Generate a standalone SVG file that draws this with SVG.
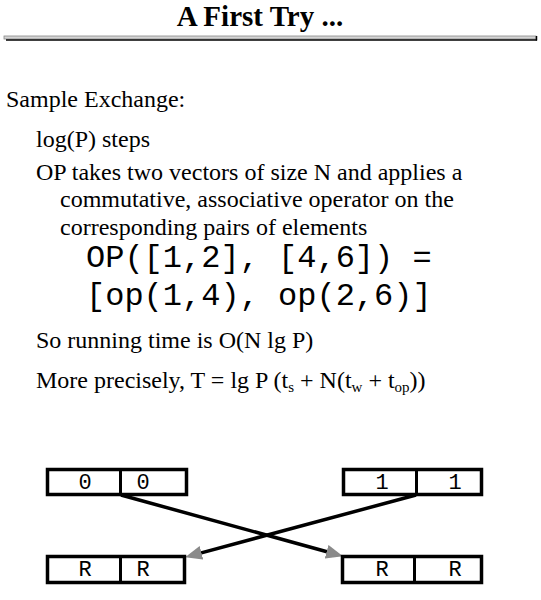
<svg xmlns="http://www.w3.org/2000/svg" width="541" height="600" viewBox="0 0 541 600">
<defs>
<style>
.t{font-family:"Liberation Serif","Times New Roman",serif;font-size:24px;fill:#000}
.m{font-family:"Liberation Mono","Courier New",monospace;font-size:32px;fill:#000}
.bx{fill:#fff;stroke:#000;stroke-width:3.5}
.dv{stroke:#000;stroke-width:3}
.bt{font-family:"Liberation Mono","Courier New",monospace;font-size:22px;fill:#000;text-anchor:middle}
.cn{stroke:#000;stroke-width:3.5;fill:none;marker-end:url(#ah)}
.sub{font-size:15px}
</style>
<marker id="ah" markerUnits="userSpaceOnUse" markerWidth="18" markerHeight="14" refX="6" refY="7" orient="auto">
<path d="M0,0 L17,7 L0,14 z" fill="#8a8a8a"/>
</marker>
</defs>
<rect width="541" height="600" fill="#fff"/>
<g id="title">
<text x="260" y="26" text-anchor="middle" style="font-family:'Liberation Serif','Times New Roman',serif;font-size:29px;font-weight:bold">A First Try ...</text>
<rect x="4" y="36" width="532" height="3" fill="#d4d4d4" stroke="#888" stroke-width="0.8"/>
<line x1="6" y1="40" x2="537" y2="40" stroke="#000" stroke-width="1.6"/>
<line x1="536.5" y1="36" x2="536.5" y2="40.5" stroke="#000" stroke-width="1.5"/>
</g>
<g id="body">
<text class="t" x="6" y="107">Sample Exchange:</text>
<text class="t" x="36" y="147">log(P) steps</text>
<text class="t" x="36" y="180">OP takes two vectors of size N and applies a</text>
<text class="t" x="60" y="207">commutative, associative operator on the</text>
<text class="t" x="60" y="235">corresponding pairs of elements</text>
<text class="m" x="86" y="267">OP([1,2], [4,6]) =</text>
<text class="m" x="86" y="305">[op(1,4), op(2,6)]</text>
<text class="t" x="36" y="348">So running time is O(N lg P)</text>
<text class="t" x="36" y="388">More precisely, T = lg P (t<tspan class="sub" dy="4">s</tspan><tspan dy="-4"> + N(t</tspan><tspan class="sub" dy="4">w</tspan><tspan dy="-4"> + t</tspan><tspan class="sub" dy="4">op</tspan><tspan dy="-4">))</tspan></text>
</g>
<g id="connectors">
<line class="cn" x1="121" y1="495" x2="332.4" y2="553.3"/>
<line class="cn" x1="416" y1="495" x2="195.7" y2="554.4"/>
</g>
<g id="node-top-left">
<rect class="bx" x="47.5" y="469.5" width="139" height="25"/>
<line class="dv" x1="120.5" y1="469.5" x2="120.5" y2="494.5"/>
<text class="bt" x="85" y="489">0</text>
<text class="bt" x="143" y="489">0</text>
</g>
<g id="node-top-right">
<rect class="bx" x="343.5" y="469.5" width="138" height="25"/>
<line class="dv" x1="416.5" y1="469.5" x2="416.5" y2="494.5"/>
<text class="bt" x="382" y="489">1</text>
<text class="bt" x="455" y="489">1</text>
</g>
<g id="node-bottom-left">
<rect class="bx" x="47.5" y="556.5" width="137" height="26"/>
<line class="dv" x1="120.5" y1="556.5" x2="120.5" y2="582.5"/>
<text class="bt" x="85" y="576">R</text>
<text class="bt" x="143" y="576">R</text>
</g>
<g id="node-bottom-right">
<rect class="bx" x="342.5" y="556.5" width="139" height="26"/>
<line class="dv" x1="414.5" y1="556.5" x2="414.5" y2="582.5"/>
<text class="bt" x="382" y="576">R</text>
<text class="bt" x="455" y="576">R</text>
</g>
</svg>
